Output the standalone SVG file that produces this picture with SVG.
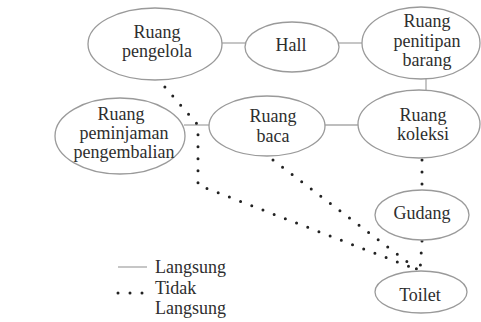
<svg xmlns="http://www.w3.org/2000/svg" width="481" height="322" viewBox="0 0 481 322" font-family="Liberation Serif" font-size="18">
<style>
.n ellipse{fill:#fff;stroke:#9a9a9a;stroke-width:1.3}
text{fill:#2e2e2e;text-anchor:middle;font-family:'Liberation Serif','Times New Roman',serif}
.solid{stroke:#a8a8a8;stroke-width:1.3;fill:none}
.dot{stroke:#222;stroke-width:3;stroke-linecap:round;stroke-dasharray:0 12;fill:none}
</style>
<rect width="481" height="322" fill="#fff"/>
<g id="connectors">
<line class="solid" x1="222" y1="43" x2="245" y2="43"/>
<line class="solid" x1="339" y1="43" x2="362" y2="43"/>
<line class="solid" x1="426" y1="78" x2="426" y2="91"/>
<line class="solid" x1="184" y1="125" x2="209" y2="125"/>
<line class="solid" x1="325" y1="125" x2="358" y2="125"/>
<polyline class="dot" points="157,78 198,125 198,185 413,268"/>
<line class="dot" x1="273" y1="160" x2="418" y2="270"/>
<line class="dot" x1="422" y1="160" x2="422" y2="190"/>
<line class="dot" x1="422" y1="241" x2="420" y2="271"/>
</g>
<g id="ruang-pengelola" class="n"><ellipse cx="155" cy="44" rx="67" ry="36"/><text x="157" y="38">Ruang</text><text x="157" y="57">pengelola</text></g>
<g id="hall" class="n"><ellipse cx="292" cy="47" rx="47" ry="25"/><text x="291" y="51">Hall</text></g>
<g id="ruang-penitipan" class="n"><ellipse cx="421" cy="43" rx="59" ry="36"/><text x="427" y="27">Ruang</text><text x="427" y="47">penitipan</text><text x="427" y="66">barang</text></g>
<g id="ruang-peminjaman" class="n"><ellipse cx="120" cy="136" rx="65" ry="38"/><text x="121" y="120">Ruang</text><text x="124" y="139">peminjaman</text><text x="124" y="158">pengembalian</text></g>
<g id="ruang-baca" class="n"><ellipse cx="267" cy="126" rx="58" ry="30"/><text x="273" y="122">Ruang</text><text x="273" y="142">baca</text></g>
<g id="ruang-koleksi" class="n"><ellipse cx="419" cy="124" rx="61" ry="34"/><text x="423" y="121">Ruang</text><text x="423" y="140">koleksi</text></g>
<g id="gudang" class="n"><ellipse cx="422" cy="215" rx="47" ry="25"/><text x="422" y="219">Gudang</text></g>
<g id="toilet" class="n"><ellipse cx="421" cy="292" rx="46" ry="21"/><text x="420" y="301">Toilet</text></g>
<g id="legend">
<line class="solid" x1="118" y1="267" x2="147" y2="267"/>
<line class="dot" x1="118" y1="293" x2="143" y2="293"/>
<text x="155" y="273" style="text-anchor:start">Langsung</text>
<text x="155" y="294" style="text-anchor:start">Tidak</text>
<text x="155" y="314" style="text-anchor:start">Langsung</text>
</g>
</svg>
